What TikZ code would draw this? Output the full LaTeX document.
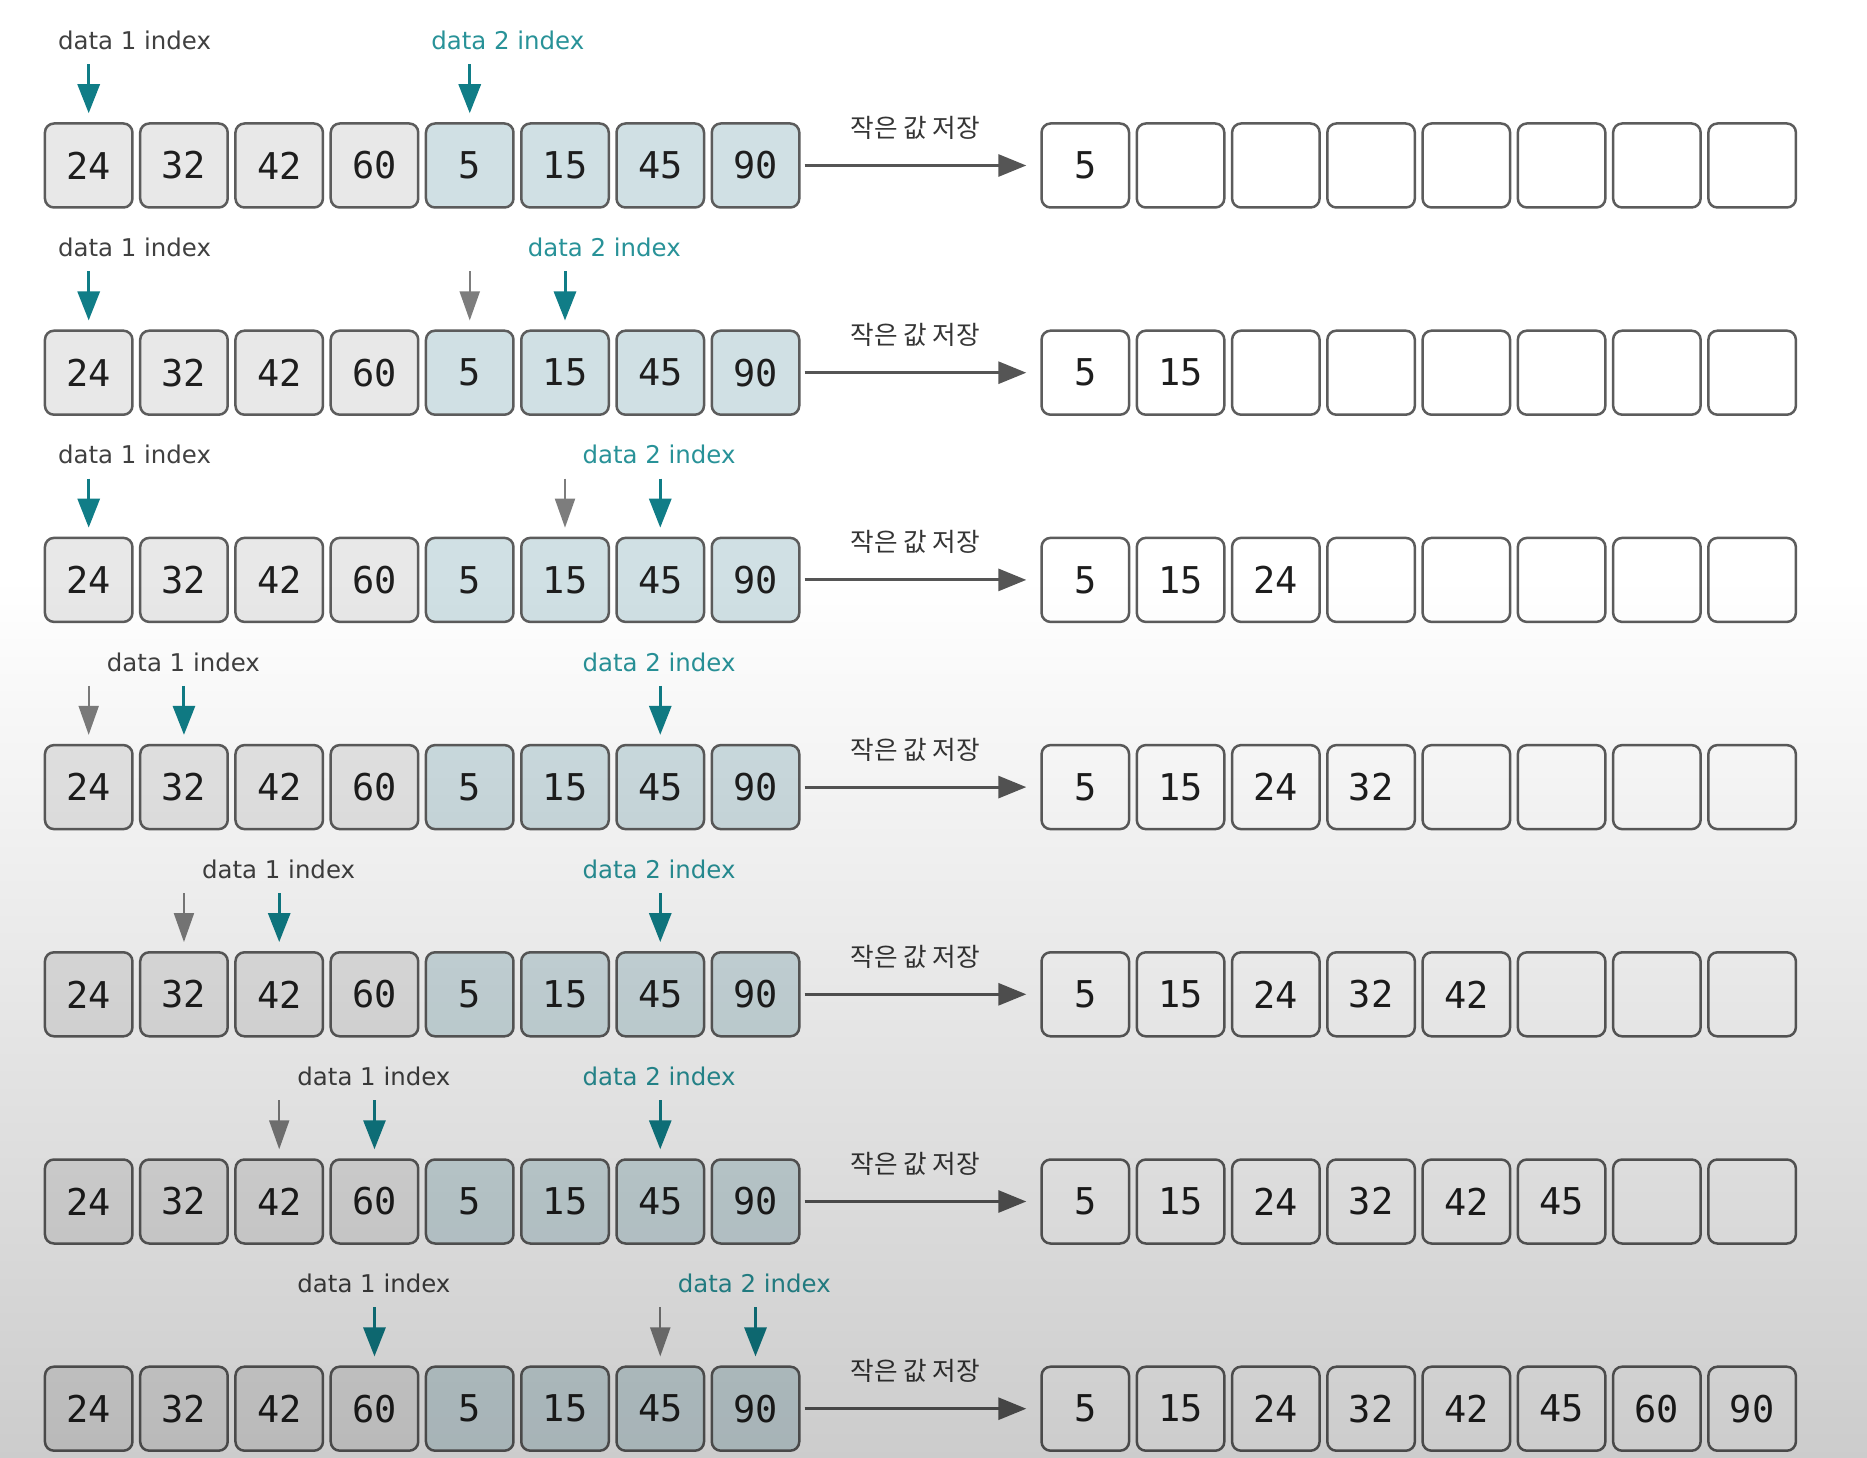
\documentclass[tikz,border=0pt]{standalone}
\usepackage{fontspec}
\setmainfont{DejaVu Sans}
\newfontfamily\numfont{DejaVu Sans Mono}
\newfontfamily\krfont{Noto Sans CJK KR}
\usetikzlibrary{arrows.meta,fadings}

\definecolor{cellgray}{RGB}{232,232,232}
\definecolor{cellblue}{RGB}{208,224,228}
\definecolor{edgegray}{RGB}{92,92,92}
\definecolor{pointer}{RGB}{16,125,135}
\definecolor{pointertext}{RGB}{40,146,152}
\definecolor{oldptr}{RGB}{125,125,125}
\definecolor{flow}{RGB}{85,85,85}
\definecolor{ink}{RGB}{30,30,30}

\tikzfading[name=vignette, top color=transparent!100, bottom color=transparent!0]

\tikzset{
  cell/.style={draw=edgegray, line width=0.025cm, rounded corners=0.09cm,
    minimum width=0.875cm, minimum height=0.84cm, inner sep=0pt, text=ink,
    font=\numfont\fontsize{10.5pt}{12pt}\selectfont},
  leftcell/.style={cell, fill=cellgray},
  mergecell/.style={cell, fill=cellblue},
  outcell/.style={cell, fill=white},
  idxone/.style={anchor=base, inner sep=0pt, text=ink!85, font=\fontsize{6.95pt}{8pt}\selectfont},
  idxtwo/.style={idxone, text=pointertext},
  ptr/.style={draw=pointer, line width=0.03cm, shorten >=0.09cm, -{Triangle[length=0.29cm, width=0.22cm]}},
  oldarrow/.style={draw=oldptr, line width=0.02cm, shorten >=0.09cm, -{Triangle[length=0.29cm, width=0.2cm]}},
  store/.style={draw=flow, line width=0.03cm, shorten <=0.04cm, shorten >=0.14cm, -{Triangle[length=0.28cm, width=0.22cm]}},
  storelabel/.style={text=ink!90, font=\krfont\fontsize{7.3pt}{8pt}\selectfont}
}

\begin{document}
\begin{tikzpicture}

\fill[white] (0,0) rectangle (18.67,-14.58);

% row / data 1 cell / label x / data 2 cell / label x / old cell
\foreach \r/\a/\xa/\b/\xb/\g in {1/0/1.345/4/5.078/-1, 2/0/1.345/5/6.043/4,
    3/0/1.345/6/6.59/5, 4/1/1.834/6/6.59/0, 5/2/2.786/6/6.59/1,
    6/3/3.739/6/6.59/2, 7/3/3.739/7/7.543/6} {
  \pgfmathsetmacro\y{-1.655-2.072*(\r-1)}
  \pgfmathtruncatemacro\n{\r==7 ? 8 : \r}

  \foreach \v [count=\i from 0] in {24,32,42,60,5,15,45,90} {
    \ifnum\i<4
      \node[leftcell] (L\r-\i) at (0.887+0.9526*\i, \y) {\v};
    \else
      \node[mergecell] (L\r-\i) at (0.887+0.9526*\i, \y) {\v};
    \fi
  }
  \foreach \v [count=\i from 0] in {5,15,24,32,42,45,60,90} {
    \node[outcell] (R\r-\i) at (10.853+0.9526*\i, \y) {\ifnum\i<\n\relax\v\fi};
  }

  \draw[store] (L\r-7) -- (R\r-0)
    node[midway, xshift=-0.05cm, yshift=0.375cm, storelabel] (S\r) {작은 값 저장};

  \node[idxone] (one\r) at (\xa, \y+1.16) {data 1 index};
  \node[idxtwo] (two\r) at (\xb, \y+1.16) {data 2 index};

  \coordinate (p\r) at ([yshift=0.58cm]L\r-\a.north);
  \coordinate (q\r) at ([yshift=0.58cm]L\r-\b.north);
  \draw[ptr] (p\r) -- (L\r-\a);
  \draw[ptr] (q\r) -- (L\r-\b);
  \ifnum\g>-1
    \coordinate (o\r) at ([yshift=0.58cm]L\r-\g.north);
    \draw[oldarrow] (o\r) -- (L\r-\g);
  \fi
}

\fill[black, fill opacity=0.2, path fading=vignette] (0,-5.8) rectangle (18.67,-14.58);

\end{tikzpicture}
\end{document}
